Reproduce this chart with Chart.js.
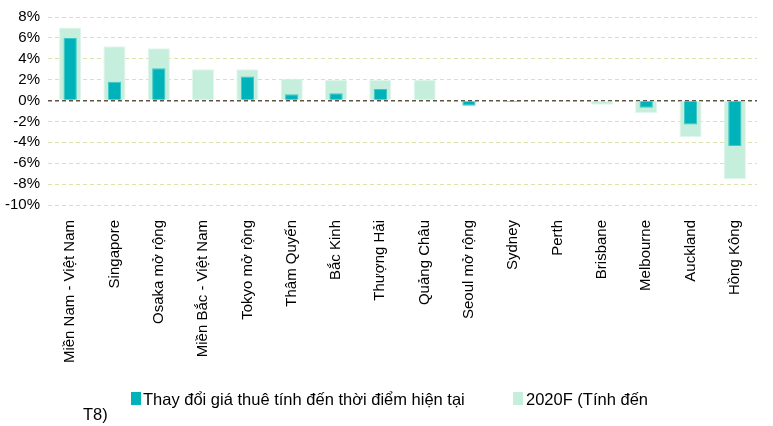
<!DOCTYPE html>
<html>
<head>
<meta charset="utf-8">
<script src="https://cdn.jsdelivr.net/npm/chart.js@4"></script>
<style>
  html, body { margin:0; padding:0; background:#fff; }
  #wrap { position:relative; width:773px; height:426px; font-family:"Liberation Sans", Arial, sans-serif; }
  #c { position:absolute; left:0; top:0; }
  .leg { position:absolute; font-size:16.5px; color:#000; white-space:nowrap; line-height:19px; }
  .sq { position:absolute; width:10px; height:13px; }
</style>
</head>
<body>
<div id="wrap">
  <canvas id="c" width="773" height="426"></canvas>
  <div class="sq" style="left:131px; top:392px; background:#00b2b9;"></div>
  <div class="leg" style="left:143px; top:390px;">Thay đổi giá thuê tính đến thời điểm hiện tại</div>
  <div class="sq" style="left:513px; top:392px; background:#c6eedd;"></div>
  <div class="leg" style="left:526px; top:390px;">2020F (Tính đến</div>
  <div class="leg" style="left:83px; top:405px;">T8)</div>
</div>
<script>
const categories = ["Miền Nam - Việt Nam","Singapore","Osaka mở rộng","Miền Bắc - Việt Nam","Tokyo mở rộng","Thâm Quyến","Bắc Kinh","Thượng Hải","Quảng Châu","Seoul mở rộng","Sydney","Perth","Brisbane","Melbourne","Auckland","Hồng Kông"];
const currentChange = [6.0, 1.8, 3.1, 0, 2.3, 0.6, 0.7, 1.1, 0, -0.5, -0.15, -0.05, 0, -0.7, -2.3, -4.35];
const forecast2020 = [7.0, 5.2, 5.0, 3.0, 3.0, 2.1, 2.0, 2.0, 2.0, 0, 0, -0.1, -0.4, -1.2, -3.5, -7.5];
const yTicks = [-10, -8, -6, -4, -2, 0, 2, 4, 6, 8];

new Chart(document.getElementById('c'), {
  type: 'bar',
  data: {
    labels: categories,
    datasets: [
      { label: 'Thay đổi giá thuê tính đến thời điểm hiện tại', data: currentChange,
        backgroundColor: '#00b2b9', borderColor: '#3cc8c4', borderWidth: 1,
        barPercentage: 0.3, categoryPercentage: 1, grouped: false, order: 0 },
      { label: '2020F (Tính đến T8)', data: forecast2020,
        backgroundColor: '#c6eedd', borderColor: '#dff6ec', borderWidth: 1,
        barPercentage: 0.5, categoryPercentage: 1, grouped: false, order: 1 }
    ]
  },
  options: {
    responsive: false,
    animation: false,
    layout: { padding: { top: 16, right: 16, left: 0, bottom: 0 } },
    plugins: { legend: { display: false }, tooltip: { enabled: false } },
    scales: {
      x: {
        grid: { display: false },
        border: { display: false },
        ticks: { minRotation: 90, maxRotation: 90, autoSkip: false, padding: 7,
                 color: '#000', font: { family: '"Liberation Sans", Arial, sans-serif', size: 15 } },
        afterFit: (s) => { s.height = 221; }
      },
      y: {
        min: -10, max: 8,
        afterBuildTicks: (s) => { s.ticks = yTicks.map(v => ({ value: v })); },
        grid: {
          color: (ctx) => ctx.tick && ctx.tick.value === 0 ? '#5e5444' : '#dde2ac',
          lineWidth: (ctx) => ctx.tick && ctx.tick.value === 0 ? 1.5 : 1,
          drawTicks: false
        },
        border: { display: false, dash: [4, 3] },
        ticks: { autoSkip: false, padding: 8, color: '#000', callback: (v) => v + '%',
                 font: { family: '"Liberation Sans", Arial, sans-serif', size: 15 } },
        afterFit: (s) => { s.width = 48; }
      }
    }
  }
});
</script>
</body>
</html>
